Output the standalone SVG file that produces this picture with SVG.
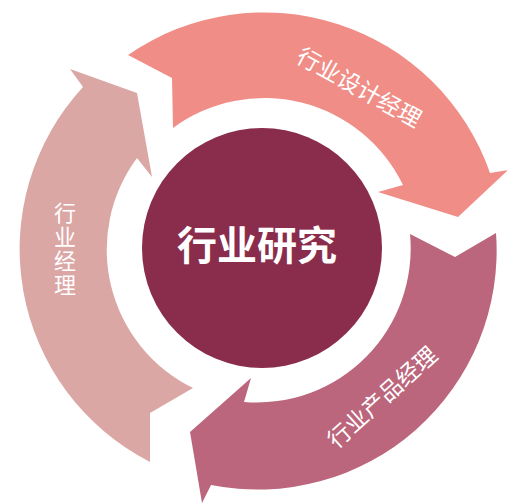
<svg xmlns="http://www.w3.org/2000/svg" width="507" height="504" viewBox="0 0 507 504">
<style>
.lbl{font-family:"Noto Sans CJK SC","Noto Sans",sans-serif;fill:#ffffff;text-anchor:middle;dominant-baseline:central}
.side{font-size:23px}
.main{font-size:40px;font-weight:bold}
.vert{font-family:"Noto Sans CJK SC","Noto Sans",sans-serif;fill:#ffffff;font-size:22px;text-anchor:middle;writing-mode:vertical-rl;text-orientation:upright;letter-spacing:2px}
</style>
<rect width="507" height="504" fill="#ffffff"/>
<g id="connectors">
<path id="arrow-top" fill="#F08D87" d="M128,55 A239,239 0 0 1 490,173 L508,170 L458,217 L378,192 L403,185 A154,154 0 0 0 173,128 L172,78 Z"/>
<path id="arrow-right" fill="#BB667C" d="M496,233 A239,239 0 0 1 211,485 L202,503 L190,432 L251,378 L244,402 A154,154 0 0 0 410,234 L455,257 Z"/>
<path id="arrow-left" fill="#DBA7A5" d="M150,462 A239,239 0 0 1 83,87 L70,69 L137,93 L152,177 L137,158 A154,154 0 0 0 193,388 L150,413 Z"/>
</g>
<g id="node-center">
<circle cx="262" cy="248" r="120" fill="#8A2C4B"/>
<text class="lbl main" x="257" y="243">行业研究</text>
</g>
<g id="node-design">
<text class="lbl side" transform="translate(360,86) rotate(29)" x="0" y="0">行业设计经理</text>
</g>
<g id="node-product">
<text class="lbl side" transform="translate(381,396) rotate(-42)" x="0" y="0">行业产品经理</text>
</g>
<g id="node-manager">
<text class="vert" x="65" y="250">行业经理</text>
</g>
</svg>
